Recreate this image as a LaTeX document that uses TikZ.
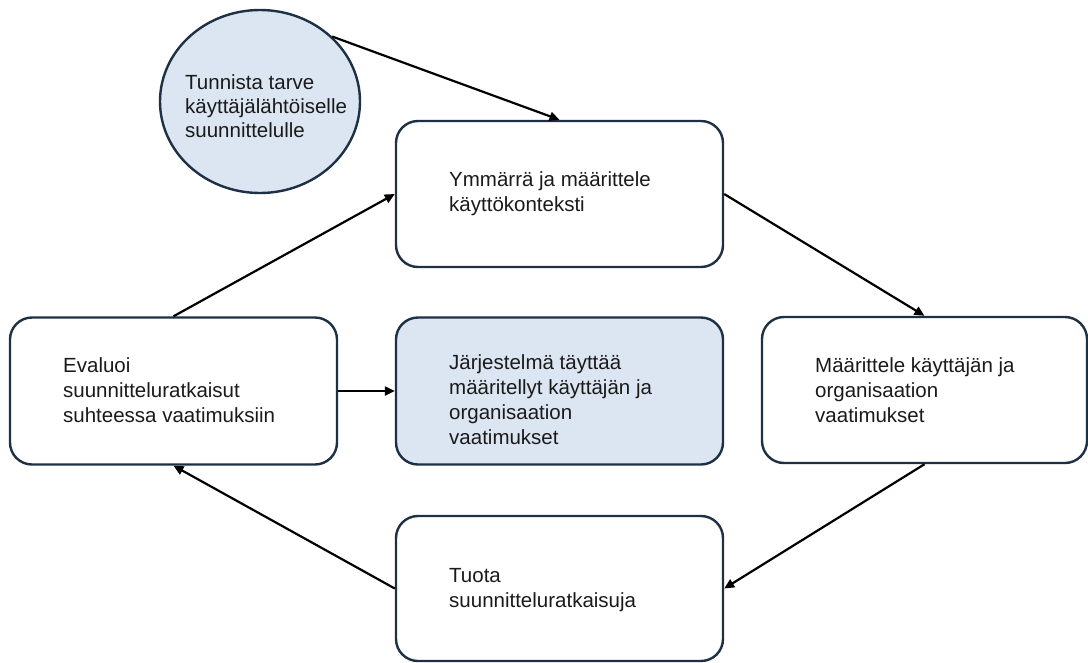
\documentclass[tikz,border=0pt]{standalone}
\usepackage{fontspec}
\setmainfont{Liberation Sans}
\usetikzlibrary{arrows.meta,shapes.geometric}
\definecolor{edge}{HTML}{1E3043}
\definecolor{paleblue}{HTML}{DCE6F2}
\definecolor{ink}{HTML}{1A1A1A}
\begin{document}
\begin{tikzpicture}[x=1pt,y=-1pt,
  stepbox/.style={draw=edge,line width=2.4pt,rounded corners=22pt,
    minimum width=327pt,minimum height=146pt,inner sep=0pt},
  txt/.style={anchor=west,align=left,inner sep=0pt,text=ink,
    font=\fontsize{20.5pt}{25pt}\selectfont},
  flow/.style={draw=black,line width=2.2pt,-{Triangle[length=10pt,width=9pt]}}
]
\useasboundingbox (0,0) rectangle (1088,662);

% process steps
\node[stepbox] (top) at (559.5,194) {};
\node[stepbox,minimum height=147pt] (left) at (173.5,391) {};
\node[stepbox,minimum height=147pt,fill=paleblue] (mid) at (559.5,391) {};
\node[stepbox,minimum width=325pt] (right) at (924.5,390) {};
\node[stepbox,minimum height=145pt] (bot) at (559.5,588.5) {};

% starting point
\node[ellipse,draw=edge,line width=2.4pt,fill=paleblue,inner sep=0pt,
  minimum width=200pt,minimum height=183pt] (circ) at (260,101.5) {};

% texts
\node[txt,font=\fontsize{20.5pt}{24pt}\selectfont] (tcirc) at (185,106)
  {Tunnista tarve\\käyttäjälähtöiselle\\suunnittelulle};
\node[txt] (ttop) at (449,194) {Ymmärrä ja määrittele\\käyttökonteksti};
\node[txt] (tleft) at (63,390) {Evaluoi\\suunnitteluratkaisut\\suhteessa vaatimuksiin};
\node[txt] (tmid) at (449,400) {Järjestelmä täyttää\\määritellyt käyttäjän ja\\organisaation\\vaatimukset};
\node[txt] (tright) at (815,390) {Määrittele käyttäjän ja\\organisaation\\vaatimukset};
\node[txt] (tbot) at (449,590) {Tuota\\suunnitteluratkaisuja};

% connectors
\draw[flow] (circ.42) -- (top.north);
\draw[flow] (top.east) -- (right.north);
\draw[flow] (right.south) -- (bot.east);
\draw[flow] (bot.west) -- (left.south);
\draw[flow] (left.north) -- (top.west);
\draw[flow] (left.east) -- (mid.west);
\end{tikzpicture}
\end{document}
